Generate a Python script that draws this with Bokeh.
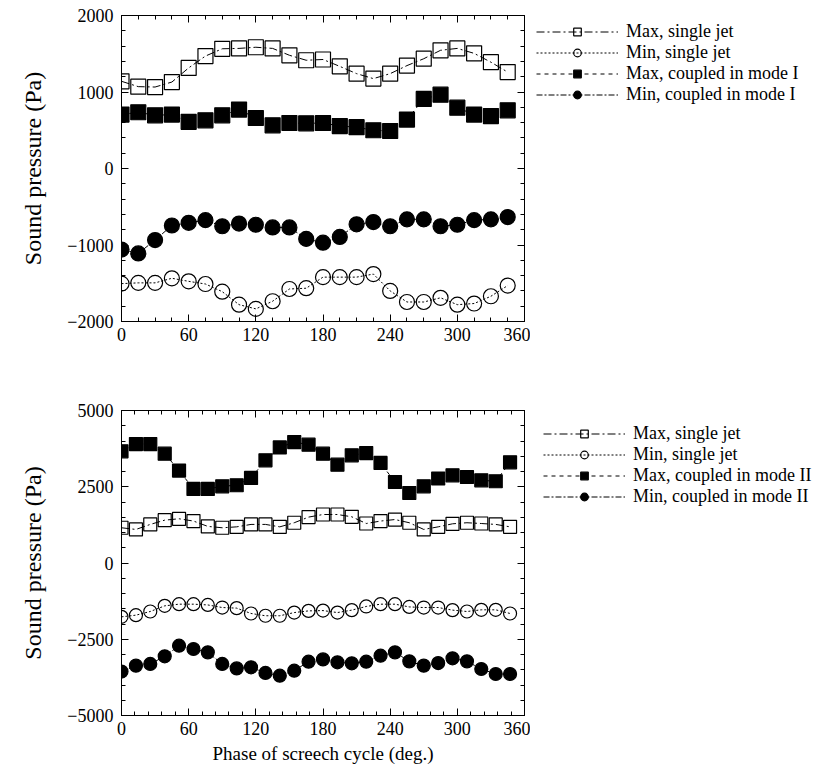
from bokeh.plotting import figure
from bokeh.models import (Range1d, LinearAxis, FixedTicker, Legend, LegendItem,
                          CustomLabelingPolicy)
from bokeh.layouts import column, row
from bokeh.embed import file_html
from bokeh.resources import INLINE

# ---------------- data: top panel (mode I), 15 deg steps ----------------
phase_top = [0, 15, 30, 45, 60, 75, 90, 105, 120, 135, 150, 165, 180, 195,
             210, 225, 240, 255, 270, 285, 300, 315, 330, 345]
max_single_top = [1140, 1070, 1065, 1130, 1315, 1470, 1565, 1570, 1585, 1570,
                  1480, 1415, 1425, 1335, 1240, 1175, 1240, 1345, 1435, 1545,
                  1570, 1505, 1390, 1260]
min_single_top = [-1505, -1495, -1495, -1435, -1475, -1510, -1610, -1780,
                  -1835, -1735, -1575, -1565, -1420, -1420, -1420, -1380,
                  -1600, -1745, -1745, -1690, -1780, -1765, -1670, -1530]
max_coupled_I = [705, 735, 695, 705, 610, 630, 695, 770, 660, 565, 595, 590,
                 595, 555, 540, 500, 490, 640, 910, 965, 795, 705, 685, 760]
min_coupled_I = [-1060, -1110, -935, -745, -710, -675, -755, -720, -735,
                 -770, -770, -920, -970, -895, -730, -700, -755, -665, -665,
                 -755, -735, -675, -665, -635]

# ---------------- data: bottom panel (mode II), 28 phases ----------------
phase_bot = [0, 12.9, 25.7, 38.6, 51.4, 64.3, 77.1, 90, 102.9, 115.7, 128.6,
             141.4, 154.3, 167.1, 180, 192.9, 205.7, 218.6, 231.4, 244.3,
             257.1, 270, 282.9, 295.7, 308.6, 321.4, 334.3, 347.1]
max_single_bot = [1155, 1100, 1265, 1405, 1450, 1375, 1200, 1155, 1185, 1265,
                  1265, 1185, 1320, 1505, 1590, 1590, 1515, 1295, 1375, 1425,
                  1320, 1100, 1185, 1285, 1320, 1295, 1265, 1185]
min_single_bot = [-1765, -1710, -1590, -1405, -1350, -1350, -1375, -1460,
                  -1480, -1655, -1730, -1730, -1625, -1570, -1560, -1625,
                  -1545, -1425, -1350, -1350, -1440, -1460, -1460, -1545,
                  -1590, -1535, -1535, -1655]
max_coupled_II = [3660, 3900, 3900, 3585, 3030, 2430, 2430, 2515, 2550, 2790,
                  3365, 3790, 3965, 3880, 3585, 3225, 3530, 3605, 3280, 2655,
                  2295, 2515, 2770, 2875, 2820, 2710, 2680, 3300]
min_coupled_II = [-3560, -3365, -3310, -3060, -2710, -2820, -2930, -3310,
                  -3455, -3420, -3605, -3695, -3530, -3235, -3160, -3255,
                  -3290, -3235, -3040, -2930, -3225, -3365, -3280, -3125,
                  -3225, -3475, -3640, -3640]

x_ticks = [0, 60, 120, 180, 240, 300, 360]
top_y_ticks = [-2000, -1000, 0, 1000, 2000]
bot_y_ticks = [-5000, -2500, 0, 2500, 5000]
top_labels = ["Max, single jet", "Min, single jet",
              "Max, coupled in mode I", "Min, coupled in mode I"]
bot_labels = ["Max, single jet", "Min, single jet",
              "Max, coupled in mode II", "Min, coupled in mode II"]
y_title = "Sound pressure (Pa)"
x_title = "Phase of screech cycle (deg.)"

FONT = "Liberation Serif"
TICK_PX = "18px"
YLABEL_PX = "24px"
XLABEL_PX = "19px"
LEG_PX = "18px"

NO_LABELS = CustomLabelingPolicy(code="""
try { for (const i of Array.from(indices)) { indices.unset(i) } } catch (e) {}
return indices
""")

STYLES = [
    dict(marker="square", fill=False, dash="8 3 2 3"),
    dict(marker="circle", fill=False, dash="2 2"),
    dict(marker="square", fill=True, dash="4 4"),
    dict(marker="circle", fill=True, dash="6 2 2 2"),
]


def minus(v):
    return ("\u2212" + str(-v)) if v < 0 else str(v)


def style_axis(ax, ticks, minor, show_labels=True, label_px="20px"):
    ax.ticker = FixedTicker(ticks=ticks, minor_ticks=minor)
    ax.major_tick_in = 7
    ax.major_tick_out = 0
    ax.minor_tick_in = 4
    ax.minor_tick_out = 0
    ax.axis_line_color = "black"
    ax.major_tick_line_color = "black"
    ax.minor_tick_line_color = "black"
    ax.major_label_text_font = FONT
    ax.major_label_text_font_size = TICK_PX
    ax.major_label_text_color = "black"
    ax.axis_label_text_font = FONT
    ax.axis_label_text_font_size = label_px
    ax.axis_label_text_font_style = "normal"
    ax.axis_label_text_color = "black"
    ax.major_label_overrides = {t: minus(t) for t in ticks}
    if not show_labels:
        ax.major_label_text_font_size = "1px"
        ax.major_label_standoff = 0
        ax.major_label_policy = NO_LABELS


def make_panel(phase, series, ylim, yticks, yminor, xminor,
               height, b_top, b_bottom, show_xlabel):
    p = figure(width=530, height=height, output_backend="svg",
               toolbar_location=None, x_range=Range1d(0, 360),
               y_range=Range1d(*ylim), min_border_left=121,
               min_border_right=6, min_border_top=b_top,
               min_border_bottom=b_bottom, x_axis_type=None,
               y_axis_type=None)
    p.grid.visible = False
    p.outline_line_color = "black"
    p.outline_line_width = 1
    p.background_fill_color = "white"
    p.border_fill_color = "white"

    xb = LinearAxis()
    style_axis(xb, x_ticks, xminor, label_px=XLABEL_PX)
    xb.major_label_standoff = 6
    if show_xlabel:
        xb.axis_label = x_title
        xb.axis_label_standoff = 5
    p.add_layout(xb, "below")
    xa = LinearAxis()
    style_axis(xa, x_ticks, xminor, show_labels=False)
    p.add_layout(xa, "above")

    yl = LinearAxis()
    style_axis(yl, yticks, yminor, label_px=YLABEL_PX)
    yl.major_label_standoff = 8
    yl.axis_label = y_title
    yl.axis_label_standoff = 18
    p.add_layout(yl, "left")
    yr = LinearAxis()
    style_axis(yr, yticks, yminor, show_labels=False)
    p.add_layout(yr, "right")

    msize = 15 if ylim[1] == 2000 else 13
    for ys, st in zip(series, STYLES):
        p.line(phase, ys, line_color="black", line_width=1,
               line_dash=st["dash"])
        p.scatter(phase, ys, marker=st["marker"], size=msize,
                  line_color="black", line_width=1.2,
                  fill_color="black" if st["fill"] else None,
                  fill_alpha=1 if st["fill"] else 0)
    return p


def make_legend(phase, series, labels, height, top_gap, margin):
    # legend-only figure: same series, but a view range that shows none of
    # them, so only the legend symbols are visible
    lf = figure(width=308, height=height, output_backend="svg",
                toolbar_location=None, x_axis_type=None, y_axis_type=None,
                min_border_left=0, min_border_right=0, min_border_bottom=0,
                min_border_top=top_gap,
                x_range=Range1d(100000, 100001),
                y_range=Range1d(100000, 100001))
    lf.grid.visible = False
    lf.outline_line_color = None
    lf.background_fill_color = "white"
    lf.border_fill_color = "white"
    items = []
    for ys, st, lab in zip(series, STYLES, labels):
        ln = lf.line(phase, ys, line_color="black", line_width=1,
                     line_dash=st["dash"])
        sc = lf.scatter(phase, ys, marker=st["marker"], size=12,
                        line_color="black", line_width=1.2,
                        fill_color="black" if st["fill"] else None,
                        fill_alpha=1 if st["fill"] else 0)
        items.append(LegendItem(label=lab, renderers=[ln, sc]))
    leg = Legend(items=items, location="top_left")
    leg.label_text_font = FONT
    leg.label_text_font_size = LEG_PX
    leg.label_text_color = "black"
    leg.glyph_width = 82
    leg.glyph_height = 19
    leg.label_height = 19
    leg.label_standoff = 8
    leg.spacing = 0
    leg.padding = 0
    leg.margin = margin
    leg.border_line_color = None
    leg.background_fill_alpha = 0
    lf.add_layout(leg, "left")
    return lf


top_series = [max_single_top, min_single_top, max_coupled_I, min_coupled_I]
bot_series = [max_single_bot, min_single_bot, max_coupled_II, min_coupled_II]

top = make_panel(phase_top, top_series,
                 (-2000, 2000), top_y_ticks,
                 list(range(-2000, 2001, 200)), list(range(0, 361, 15)),
                 height=400, b_top=15, b_bottom=79, show_xlabel=False)
bot = make_panel(phase_bot, bot_series,
                 (-5000, 5000), bot_y_ticks,
                 list(range(-5000, 5001, 500)), list(range(0, 361, 12)),
                 height=380, b_top=9, b_bottom=65, show_xlabel=True)

leg_top = make_legend(phase_top, top_series, top_labels, 400, 12, 6)
leg_bot = make_legend(phase_bot, bot_series, bot_labels, 380, 10, 13)

layout = column(row(top, leg_top, spacing=0), row(bot, leg_bot, spacing=0),
                spacing=0)
open("out.html", "w").write(file_html(layout, INLINE))
